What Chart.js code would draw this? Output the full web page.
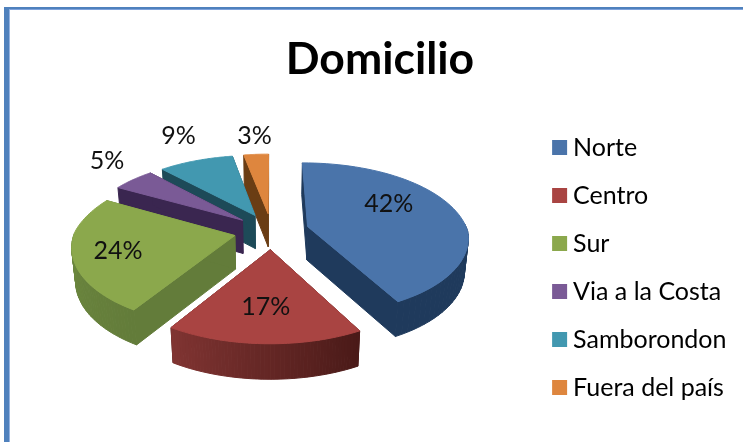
<!DOCTYPE html>
<html><head><meta charset="utf-8">
<script src="https://cdn.jsdelivr.net/npm/chart.js@4"></script>
<style>
html,body{margin:0;padding:0;background:#fff;overflow:hidden}
#wrap{position:relative;width:743px;height:442px}
canvas{position:absolute;left:0;top:0}
#frame{position:absolute;left:4px;top:7px;right:0;bottom:0;border-left:5px solid #4f81bd;border-top:2px solid #4f81bd;box-sizing:border-box}
#inner{position:absolute;left:0;top:0;right:0;bottom:0;border-left:1px solid #95b3e0;border-top:1px solid #7fa3dc}
</style></head><body>
<div id="wrap"><canvas id="c" width="743" height="442"></canvas><div id="frame"><div id="inner"></div></div></div>
<script>
const categories = ["Norte","Centro","Sur","Via a la Costa","Samborondon","Fuera del país"];
const values = [42,17,24,5,9,3];
const topColors = ["#4a74aa","#a94442","#8ba84c","#7a5a96","#4298b0","#de863e"];
const wallStart = ["#1f3a5c","#4a1a18","#637c3a","#3a2650","#1d4a58","#6a3d14"];
const wallEnd = ["#1f3a5c","#803432","#708d40","#3a2650","#1d4a58","#6a3d14"];
const labelRadius = [0.72,0.62,0.72,1.27,1.27,1.25];
const labelNudge = [[-25,-9],[-1,2],[-1,1],[0,-9],[-4,-13],[1,-7]];

const view = {cx:271.5, cy:231, R:160, kFront:0.125, kBack:0.17, a:0.48, b:18, depth:33.5, shrink:0.02};
function project(u,v,h){
  const k = v<0 ? view.kBack : view.kFront;
  const f = 1/(1 - k*v/view.R);
  const n = v/198;
  const s = 1 - view.shrink*h;
  return {
    x: view.cx + u*f*s,
    y: view.cy + view.a*v + view.b*n*n + h*view.depth*(1 + 0.06*v/198)
  };
}
function hex(c){return [1,3,5].map(i=>parseInt(c.substr(i,2),16));}
function mix(c1,c2,t){const a=hex(c1),b=hex(c2);return `rgb(${a.map((x,i)=>Math.round(x+(b[i]-x)*t)).join(',')})`;}
function quad(ctx,p,color){
  ctx.fillStyle=color;ctx.strokeStyle=color;ctx.lineWidth=1;ctx.lineJoin='round';
  ctx.beginPath();p.forEach((q,i)=>i?ctx.lineTo(q.x,q.y):ctx.moveTo(q.x,q.y));ctx.closePath();ctx.fill();ctx.stroke();
}
const pie3d = {
  id:'pie3d',
  beforeDatasetDraw(chart,args){
    const ctx=chart.ctx, meta=args.meta, R=view.R;
    const order=meta.data.map((arc,i)=>({arc,i,mid:(arc.startAngle+arc.endAngle)/2}))
      .sort((p,q)=>Math.sin(p.mid)-Math.sin(q.mid));
    ctx.save();
    order.forEach(({arc,i,mid})=>{
      const off=arc.options.offset;
      const ou=Math.cos(mid)*off, ov=Math.sin(mid)*off;
      const rim=t=>{const a=arc.startAngle+(arc.endAngle-arc.startAngle)*t;return [ou+Math.cos(a)*R,ov+Math.sin(a)*R,a];};
      const N=60, apex=[ou,ov];
      const radial=t=>{const e=rim(t);quad(ctx,[project(apex[0],apex[1],0),project(e[0],e[1],0),project(e[0],e[1],1),project(apex[0],apex[1],1)],wallStart[i]);};
      radial(0);radial(1);
      for(let s=0;s<N;s++){
        const p=rim(s/N),q=rim((s+1)/N);
        if(Math.sin((p[2]+q[2])/2)<-0.02)continue;
        quad(ctx,[project(p[0],p[1],0),project(q[0],q[1],0),project(q[0],q[1],1),project(p[0],p[1],1)],mix(wallStart[i],wallEnd[i],s/(N-1)));
      }
      const top=[project(apex[0],apex[1],0)];
      for(let s=0;s<=N;s++){const p=rim(s/N);top.push(project(p[0],p[1],0));}
      quad(ctx,top,topColors[i]);
    });
    ctx.fillStyle='#111';ctx.font='25px Lato';ctx.textAlign='center';ctx.textBaseline='middle';
    const total=values.reduce((a,b)=>a+b,0);
    meta.data.forEach((arc,i)=>{
      const mid=(arc.startAngle+arc.endAngle)/2, r=R*labelRadius[i]+arc.options.offset;
      const p=project(Math.cos(mid)*r,Math.sin(mid)*r,0);
      ctx.fillText(Math.round(values[i]/total*100)+'%',p.x+labelNudge[i][0],p.y+labelNudge[i][1]);
    });
    ctx.restore();
    return false;
  }
};
new Chart(document.getElementById('c'),{
  type:'pie',
  data:{labels:categories,datasets:[{data:values,backgroundColor:topColors,borderWidth:0,offset:37.6}]},
  plugins:[pie3d],
  options:{
    responsive:false,animation:false,
    layout:{padding:{left:23.5,right:6.5,top:0,bottom:0}},
    plugins:{
      tooltip:{enabled:false},
      title:{display:true,text:'Domicilio',color:'#000',font:{family:'Lato',size:44.5,weight:'bold'},padding:{top:33.3,bottom:6.3}},
      legend:{position:'right',fullSize:false,labels:{
        boxWidth:2,boxHeight:2,padding:23,color:'#111',font:{family:'Lato',size:25},
        generateLabels(chart){
          return chart.data.labels.map((t,i)=>({text:t,fillStyle:topColors[i],strokeStyle:topColors[i],lineWidth:13,index:i,hidden:false}));
        }
      }}
    }
  }
});
</script></body></html>
